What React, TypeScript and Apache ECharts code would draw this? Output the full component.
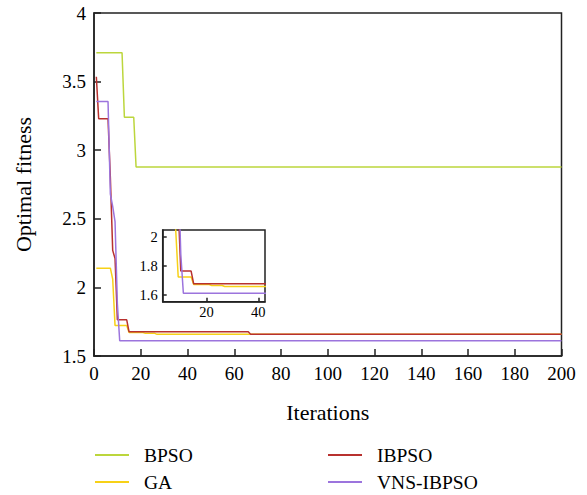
import React, { useEffect, useRef } from "react";
import * as echarts from "echarts";

const seriesNames = ["BPSO", "GA", "IBPSO", "VNS-IBPSO"];
const seriesColors = ["#bcd63c", "#f7d117", "#b8312f", "#9c74dd"];

// [iteration, optimal fitness] at each point where the curve changes
const bpso = [[1, 3.71], [12, 3.71], [13, 3.24], [17, 3.24], [18, 2.878], [200, 2.878]];
const ga = [[1, 2.14], [7, 2.14], [8, 2.06], [9, 1.723], [14, 1.723], [15, 1.671], [21, 1.671], [22, 1.665], [26, 1.665], [27, 1.658], [200, 1.658]];
const ibpso = [[1, 3.535], [2, 3.23], [6, 3.23], [7, 2.8], [8, 2.27], [9, 2.21], [10, 1.764], [14, 1.764], [15, 1.676], [66, 1.676], [67, 1.658], [200, 1.658]];
const vnsIbpso = [[1, 3.355], [6, 3.355], [7, 2.68], [8, 2.59], [9, 2.48], [10, 1.88], [11, 1.611], [200, 1.611]];

const xTicksMain = { min: 0, max: 200, interval: 20 };
const yTicksMain = { min: 1.5, max: 4, interval: 0.5 };
const insetXTicks = [20, 40];
const insetYTicks = [1.6, 1.8, 2];

const FONT = "Liberation Serif";

export default function App() {
  const ref = useRef<HTMLDivElement>(null);
  useEffect(() => {
    if (!ref.current) return;
    const chart = echarts.init(ref.current, undefined, { renderer: "svg" });
    const allData = [bpso, ga, ibpso, vnsIbpso];
    const axisLine = { show: true, lineStyle: { color: "#222", width: 1.5 } };
    const series: any[] = [];
    allData.forEach((d, i) => {
      series.push({
        name: seriesNames[i],
        type: "line",
        xAxisIndex: 0,
        yAxisIndex: 0,
        data: d,
        symbol: "none",
        showSymbol: false,
        lineStyle: { color: seriesColors[i], width: 1.5 },
        itemStyle: { color: seriesColors[i] },
        z: 2 + i,
      });
    });
    allData.forEach((d, i) => {
      series.push({
        name: seriesNames[i],
        type: "line",
        xAxisIndex: 1,
        yAxisIndex: 1,
        data: d,
        symbol: "none",
        showSymbol: false,
        clip: true,
        lineStyle: { color: seriesColors[i], width: 1.5 },
        itemStyle: { color: seriesColors[i] },
        z: 20 + i,
      });
    });
    const legendCommon = {
      orient: "vertical",
      top: 445,
      padding: 0,
      itemWidth: 34,
      itemHeight: 14,
      itemGap: 7,
      icon: "path://M0,0 L34,0 L34,2 L0,2 Z",
      textStyle: { fontFamily: FONT, fontSize: 19.5, color: "#000", lineHeight: 20, padding: [0, 0, 0, 10] },
    };
    chart.setOption({
      animation: false,
      backgroundColor: "#fff",
      textStyle: { fontFamily: FONT },
      legend: [
        { ...legendCommon, left: 95, data: [seriesNames[0], seriesNames[1]] },
        { ...legendCommon, left: 328, data: [seriesNames[2], seriesNames[3]] },
      ],
      grid: [
        { left: 94, top: 13, right: 25.5, bottom: 139, show: true, borderColor: "#222", borderWidth: 1.5, z: 0 },
        { left: 162.7, top: 230, width: 102.3, height: 71.7, show: true, backgroundColor: "#fff", borderColor: "#222", borderWidth: 1.5, z: 10 },
      ],
      xAxis: [
        {
          type: "value",
          gridIndex: 0,
          ...xTicksMain,
          name: "Iterations",
          nameLocation: "middle",
          nameGap: 45,
          nameTextStyle: { fontFamily: FONT, fontSize: 22, color: "#000" },
          axisLine,
          axisTick: { show: true, inside: true, length: 7, lineStyle: { color: "#222", width: 1.5 } },
          axisLabel: { fontFamily: FONT, fontSize: 19, color: "#000", margin: 8 },
          splitLine: { show: false },
        },
        {
          type: "value",
          gridIndex: 1,
          min: 3,
          max: 42.6,
          axisLine,
          axisTick: { show: true, inside: true, length: 4, customValues: insetXTicks, lineStyle: { color: "#222", width: 1.5 } },
          axisLabel: { fontFamily: FONT, fontSize: 14.5, color: "#000", margin: 3, customValues: insetXTicks },
          splitLine: { show: false },
          z: 12,
        },
      ],
      yAxis: [
        {
          type: "value",
          gridIndex: 0,
          ...yTicksMain,
          name: "Optimal fitness",
          nameLocation: "middle",
          nameGap: 60,
          nameTextStyle: { fontFamily: FONT, fontSize: 22, color: "#000" },
          axisLine,
          axisTick: { show: true, inside: true, length: 7, lineStyle: { color: "#222", width: 1.5 } },
          axisLabel: { fontFamily: FONT, fontSize: 19, color: "#000", margin: 8 },
          splitLine: { show: false },
        },
        {
          type: "value",
          gridIndex: 1,
          min: 1.553,
          max: 2.047,
          axisLine,
          axisTick: { show: true, inside: true, length: 4, customValues: insetYTicks, lineStyle: { color: "#222", width: 1.5 } },
          axisLabel: { fontFamily: FONT, fontSize: 14.5, color: "#000", margin: 5, customValues: insetYTicks },
          splitLine: { show: false },
          z: 12,
        },
      ],
      series,
    });
    return () => chart.dispose();
  }, []);
  return <div ref={ref} style={{ position: "fixed", left: 0, top: 0, width: 587, height: 495 }} />;
}
